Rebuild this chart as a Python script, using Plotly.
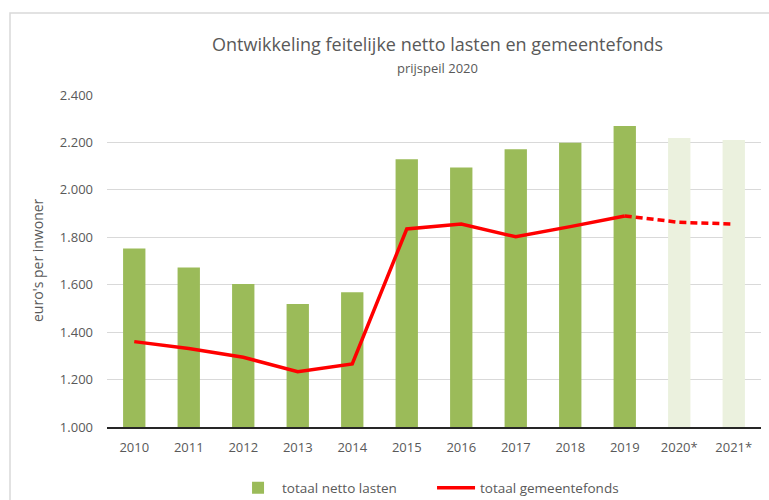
import plotly.graph_objects as go

years = ["2010", "2011", "2012", "2013", "2014", "2015", "2016", "2017", "2018", "2019", "2020*", "2021*"]
netto_lasten = [1753, 1673, 1603, 1519, 1568, 2129, 2094, 2171, 2199, 2269, 2219, 2210]
gemeentefonds = [1360, 1331, 1294, 1233, 1266, 1835, 1856, 1802, 1845, 1890, 1863, 1856]
n_actual = 10  # 2010-2019 realised, 2020*/2021* projected

bar_colors = ["#9BBB59"] * n_actual + ["#EBF1DE"] * (len(years) - n_actual)

L, R, T, B = 107, 8, 95, 73
W, H = 769, 500
pw, ph = W - L - R, H - T - B

fig = go.Figure()
fig.add_trace(go.Bar(
    x=years, y=netto_lasten, name="totaal netto lasten",
    marker=dict(color=bar_colors, line=dict(width=0)),
))
fig.add_trace(go.Scatter(
    x=years[:n_actual], y=gemeentefonds[:n_actual], name="totaal gemeentefonds",
    mode="lines", line=dict(color="#FF0000", width=3.5),
))
fig.add_trace(go.Scatter(
    x=years[n_actual - 1:], y=gemeentefonds[n_actual - 1:], showlegend=False,
    mode="lines", line=dict(color="#FF0000", width=3.5, dash="7px,4px"),
))

font_fam = "Open Sans, Noto Sans, sans-serif"
fig.update_layout(
    width=W, height=H,
    margin=dict(l=L, r=R, t=T, b=B, autoexpand=False),
    paper_bgcolor="white", plot_bgcolor="white",
    separators=",.",
    bargap=0.59,
    font=dict(family=font_fam, color="#595959", size=13),
    showlegend=True,
    legend=dict(orientation="h", x=0.497, xanchor="center", y=-0.137, yanchor="top",
                font=dict(size=13.5, color="#595959"), itemwidth=38,
                entrywidth=145, entrywidthmode="pixels",
                traceorder="normal"),
    xaxis=dict(showgrid=False, showline=True, linecolor="#262626", linewidth=1.5,
               ticks="", tickfont=dict(size=13, color="#595959"), automargin=False,
               ticklabelstandoff=8),
    yaxis=dict(range=[1000, 2400], dtick=200, tickformat=",.0f",
               showgrid=True, gridcolor="#D9D9D9", gridwidth=1.3,
               zeroline=False, showline=False, ticks="", ticklen=0,
               tickfont=dict(size=13, color="#595959"), automargin=False,
               ticklabelstandoff=13),
    annotations=[
        dict(text="Ontwikkeling feitelijke netto lasten en gemeentefonds", xref="paper", yref="paper",
             x=0.505, y=(H - B - 44) / ph, xanchor="center", yanchor="middle", showarrow=False,
             font=dict(size=18, color="#595959")),
        dict(text="prijspeil 2020", xref="paper", yref="paper",
             x=0.505, y=(H - B - 68) / ph, xanchor="center", yanchor="middle", showarrow=False,
             font=dict(size=13, color="#595959")),
        dict(text="euro's per inwoner", xref="paper", yref="paper", textangle=-90,
             x=(37 - L) / pw, y=(H - B - 260) / ph, xanchor="center", yanchor="middle",
             showarrow=False, font=dict(size=14, color="#595959")),
    ],
    shapes=[
        dict(type="rect", xref="paper", yref="paper", layer="below",
             x0=(10 - L) / pw, x1=(W + 5 - L) / pw,
             y0=(H - B - (H + 5)) / ph, y1=(H - B - 13) / ph,
             line=dict(color="#D9D9D9", width=1.5), fillcolor="rgba(0,0,0,0)"),
    ],
)

fig.write_html("out.html", config={"displayModeBar": False},
               post_script="document.body.style.margin='0';document.body.style.overflow='hidden';")
